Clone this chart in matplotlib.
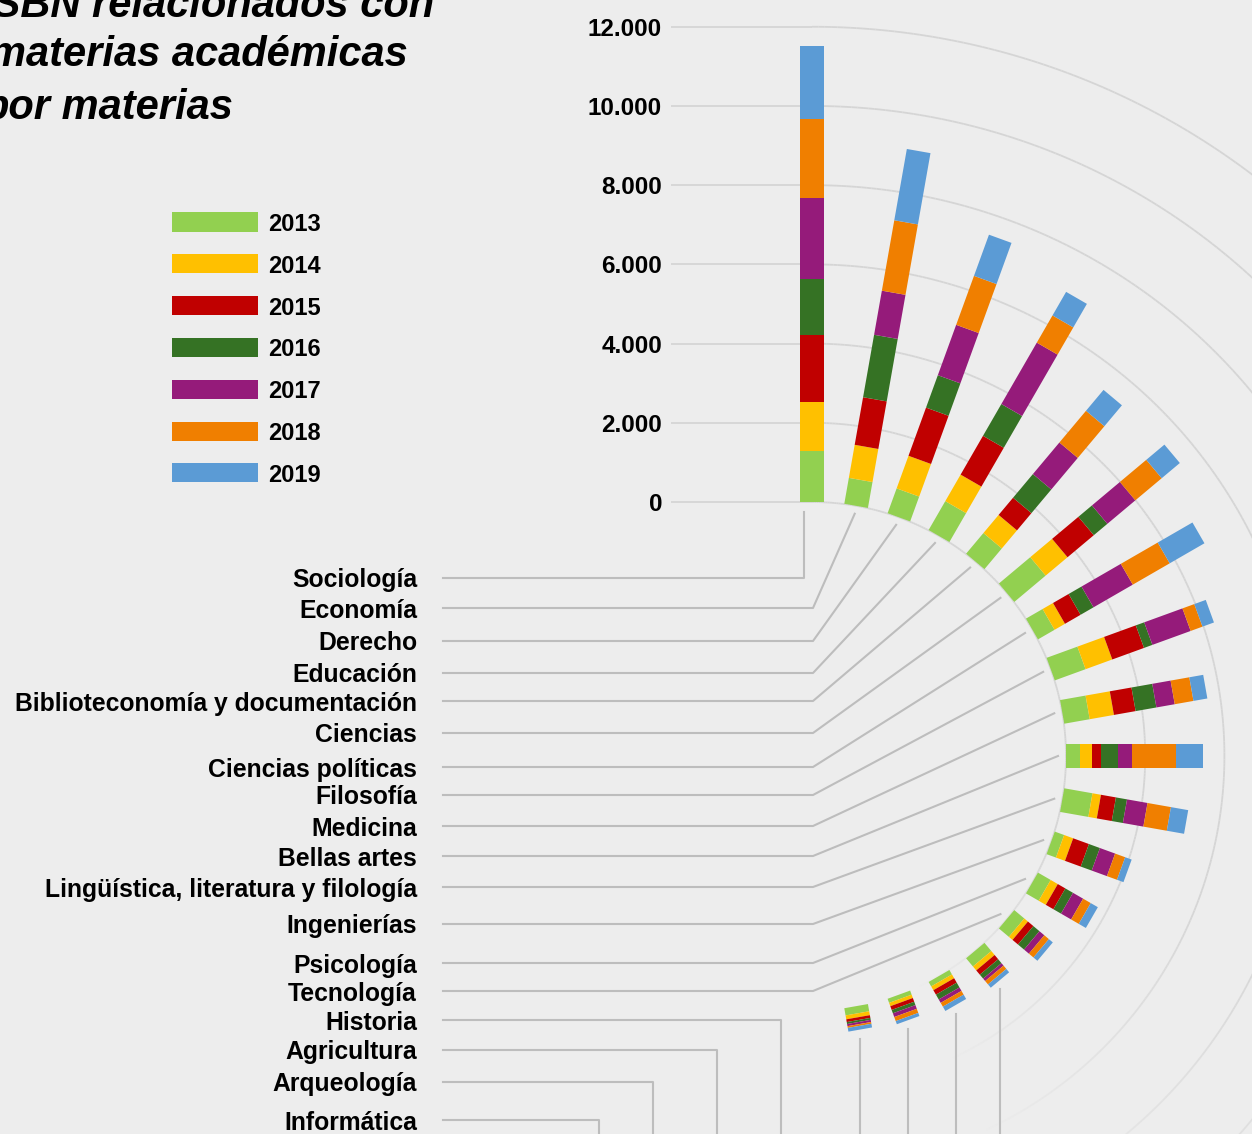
import numpy as np
import matplotlib
matplotlib.use("Agg")
import matplotlib.pyplot as plt
from matplotlib.collections import LineCollection
from matplotlib.patches import Rectangle
from matplotlib.transforms import Affine2D

plt.rcParams['font.family'] = ['Liberation Sans', 'DejaVu Sans']

# data: ISBN por materia y año
materias = ["Sociología", "Economía", "Derecho", "Educación",
            "Biblioteconomía y documentación", "Ciencias", "Ciencias políticas",
            "Filosofía", "Medicina", "Bellas artes",
            "Lingüística, literatura y filología", "Ingenierías", "Psicología",
            "Tecnología", "Historia", "Agricultura", "Arqueología", "Informática"]
years = ["2013", "2014", "2015", "2016", "2017", "2018", "2019"]
y2013 = [1295, 664, 667, 843, 682, 1035, 485, 828, 654, 354, 725, 252, 371, 330, 270, 130, 110, 185]
y2014 = [1230, 848, 876, 773, 596, 720, 303, 717, 621, 303, 217, 242, 207, 120, 130, 110, 90, 100]
y2015 = [1682, 1220, 1295, 1131, 568, 866, 455, 853, 556, 227, 384, 424, 222, 180, 140, 130, 100, 70]
y2016 = [1432, 1601, 871, 927, 780, 447, 376, 225, 533, 421, 285, 295, 222, 200, 130, 140, 90, 50]
y2017 = [2038, 1131, 1353, 1790, 1040, 922, 1146, 1028, 470, 354, 525, 409, 295, 160, 80, 100, 100, 55]
y2018 = [2002, 1805, 1316, 793, 1045, 869, 1076, 318, 480, 1111, 601, 270, 222, 150, 110, 110, 110, 45]
y2019 = [1826, 1828, 1106, 687, 689, 598, 1013, 308, 356, 697, 442, 174, 207, 130, 110, 126, 84, 95]
ticks = [0, 2000, 4000, 6000, 8000, 10000, 12000]

colors = ["#92d050", "#ffc000", "#c00000", "#357224", "#951b7a", "#f07f00", "#5b9bd5"]
BG = "#ededed"
GRID = "#d5d5d5"
LEAD = "#bdbdbd"

# layout (pixels)
W, H = 1252, 1134
CX, CY = 812, 756          # centre of the fan
U = 25.25                  # ISBN per pixel
R0 = 254 * U               # inner hole
BW = 24 * U                # bar width
label_y = [578, 608, 641, 673, 701, 733, 767, 795, 826, 856, 887, 924, 963, 991, 1020, 1050, 1082, 1120]
drop_x = [781, 717, 653, 599]   # where the last four leaders turn down


def px(x, y):
    return (x - CX) * U, (CY - y) * U


fig = plt.figure(figsize=(W / 100, H / 100), dpi=100, facecolor=BG)
ax = fig.add_axes([0, 0, 1, 1])
ax.set_facecolor(BG)
ax.axis('off')
ax.set_xlim(-CX * U, (W - CX) * U)
ax.set_ylim(-(H - CY) * U, CY * U)

# grid: horizontal stub on the left + arc fading towards the bottom
ang = np.radians(np.linspace(90, -90, 361))
for t in ticks:
    r = R0 + t
    x0, _ = px(671, 0)
    ax.plot([x0, 0], [r, r], color=GRID, lw=1.3, zorder=1, solid_capstyle='butt')
    pts = np.column_stack([r * np.cos(ang), r * np.sin(ang)])
    segs = np.stack([pts[:-1], pts[1:]], axis=1)
    deg = np.degrees(ang[:-1])
    alpha = np.clip((deg + 65) / 45, 0, 1)
    cols = [(0.835, 0.835, 0.835, a) for a in alpha]
    ax.add_collection(LineCollection(segs, colors=cols, linewidths=1.3, zorder=1))
    tx, _ = px(662, 0)
    ax.text(tx, r, f"{t:,}".replace(",", "."), ha='right', va='center_baseline',
            fontsize=17.5, fontweight='bold', color='black')

# stacked radial bars
vals = np.array([y2013, y2014, y2015, y2016, y2017, y2018, y2019], dtype=float)
n = len(materias)
angles = 90 - 10 * np.arange(n)
for i in range(n):
    v = vals[:, i]
    lefts = R0 + np.concatenate([[0], np.cumsum(v)[:-1]])
    tr = Affine2D().rotate_deg(angles[i]) + ax.transData
    ax.barh(np.zeros(len(v)), v, left=lefts, height=BW, color=colors,
            linewidth=0, transform=tr, zorder=3)

# leader lines and labels
lx, _ = px(443, 0)
bx, _ = px(813, 0)
for i, name in enumerate(materias):
    _, ly = px(0, label_y[i])
    a = np.radians(angles[i])
    if i == 0:
        vx, _ = px(804, 0)
        ax.plot([lx, vx, vx], [ly, ly, R0 - 10 * U], color=LEAD, lw=1.5, zorder=2)
    elif i < 14:
        re = R0 - 8 * U
        ex, ey = re * np.cos(a), re * np.sin(a)
        ax.plot([lx, bx, ex], [ly, ly, ey], color=LEAD, lw=1.5, zorder=2)
    else:
        dx, _ = px(drop_x[i - 14], 0)
        _, yb = px(0, H + 10)
        ax.plot([lx, dx, dx], [ly, ly, yb], color=LEAD, lw=1.5, zorder=2)
        rt = R0 + vals[:, i].sum()
        tx, ty = rt * np.cos(a), rt * np.sin(a)
        ax.plot([tx, tx], [ty - 9 * U, yb], color=LEAD, lw=1.5, zorder=2)
    t_x, _ = px(417, 0)
    ax.text(t_x, ly, name, ha='right', va='center_baseline', fontsize=17.8,
            fontweight='bold', color='black')

# legend
for k, (yr, c) in enumerate(zip(years, colors)):
    yc = 222 + 41.8 * k
    fig.add_artist(Rectangle((172 / W, 1 - (yc + 9.5) / H), 86 / W, 19 / H,
                             transform=fig.transFigure, facecolor=c, edgecolor='none'))
    fig.text(268 / W, 1 - yc / H, yr, ha='left', va='center_baseline',
             fontsize=17, fontweight='bold')

# title (cropped at the top-left like the original)
title_lines = ["ISBN relacionados con", "materias académicas", "por materias"]
for txt, xr, yb in zip(title_lines, [434, 408, 234], [17, 66, 119]):
    fig.text(xr / W, 1 - yb / H, txt, ha='right', va='baseline', fontsize=30,
             fontweight='bold', fontstyle='italic')

fig.savefig("out.png", dpi=100, facecolor=BG)
